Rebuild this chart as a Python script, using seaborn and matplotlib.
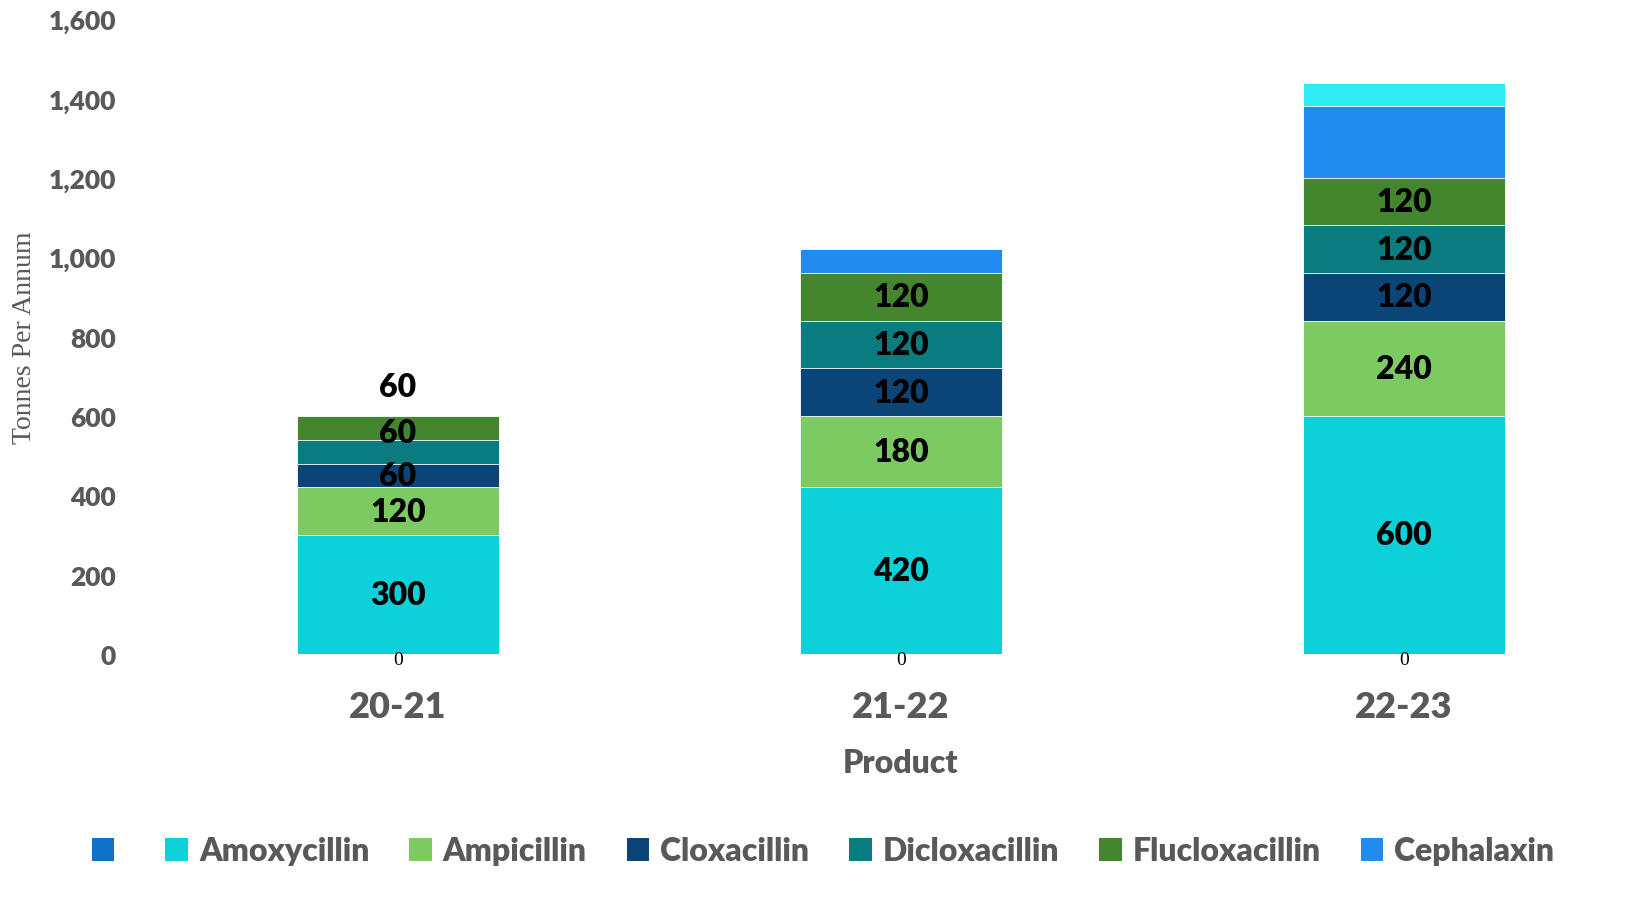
import numpy as np
import seaborn as sns
import matplotlib.pyplot as plt
from matplotlib.patches import Patch
from matplotlib.ticker import FuncFormatter

# data
years = ['20-21', '21-22', '22-23']
blank = [0, 0, 0]
amoxycillin = [300, 420, 600]
ampicillin = [120, 180, 240]
cloxacillin = [60, 120, 120]
dicloxacillin = [60, 120, 120]
flucloxacillin = [60, 120, 120]
cephalaxin = [0, 60, 180]
others = [0, 0, 60]

series_names = ['', 'Amoxycillin', 'Ampicillin', 'Cloxacillin',
                'Dicloxacillin', 'Flucloxacillin', 'Cephalaxin', 'Others']
series_values = [blank, amoxycillin, ampicillin, cloxacillin,
                 dicloxacillin, flucloxacillin, cephalaxin, others]
colors = ['#1170C8', '#0DD0D8', '#7DC962', '#0B4477',
          '#0A7C80', '#43862E', '#228BEE', '#2DECF6']
labelled = [True, True, True, True, True, True, False, False]
in_legend = [True, True, True, True, True, True, True, False]

# label nudges (data units) where the original labels sit off-centre
nudge = {(4, 0): 47, (5, 0): 105}

W = 'heavy'

sns.set_theme(style='white')
plt.rcParams['font.family'] = ['Lato', 'DejaVu Sans']

fig = plt.figure(figsize=(16.3, 9.04), dpi=100)
ax = fig.add_axes([130 / 1630, 1 - 655 / 904, 1500 / 1630, 635 / 904])

vals = np.array(series_values, dtype=float)
cum = np.cumsum(vals, axis=0)

# draw cumulative totals from the top down so each layer covers the next
for i in reversed(range(len(series_values))):
    sns.barplot(x=years, y=cum[i], color=colors[i], width=0.4,
                saturation=1, edgecolor='white', linewidth=0.6, ax=ax)

# value labels
for i, name in enumerate(series_names):
    if not labelled[i]:
        continue
    for j in range(len(years)):
        v = vals[i, j]
        if i == 0:
            ax.text(j, -14, f'{v:.0f}', ha='center', va='center',
                    fontsize=14, family='Liberation Serif', color='black',
                    clip_on=False)
            continue
        y = cum[i, j] - v / 2 + nudge.get((i, j), 0)
        ax.text(j, y, f'{v:.0f}', ha='center', va='center',
                fontsize=23, fontweight=W, color='black')

ax.set_xlim((130 - 398) / 503, (1630 - 398) / 503)
ax.set_ylim(0, 1600)
ax.set_yticks(range(0, 1601, 200))
ax.yaxis.set_major_formatter(FuncFormatter(lambda v, p: f'{v:,.0f}'))
sns.despine(ax=ax, left=True, bottom=True)
ax.tick_params(axis='y', length=0, pad=10, labelsize=19, labelcolor='#595959')
ax.tick_params(axis='x', length=0, pad=26, labelsize=26, labelcolor='#595959')
for t in ax.get_xticklabels() + ax.get_yticklabels():
    t.set_fontweight(W)

ax.set_xlabel('Product', fontsize=23, fontweight=W, color='#595959')
ax.xaxis.set_label_coords((901 - 130) / 1500, -0.148)
ax.set_ylabel('Tonnes Per Annum', fontsize=20, color='#595959',
              family='Liberation Serif')
ax.yaxis.set_label_coords(-0.062, 0.5)

handles = [Patch(facecolor=colors[i], edgecolor='none')
           for i in range(len(series_names)) if in_legend[i]]
names = [series_names[i] for i in range(len(series_names)) if in_legend[i]]
leg = fig.legend(handles, names, loc='center', ncol=len(names),
                 bbox_to_anchor=(0.505, 1 - 852 / 904), frameon=False,
                 handlelength=0.7, handleheight=0.7, handletextpad=0.35,
                 columnspacing=1.25, prop={'size': 23, 'weight': W})
for t in leg.get_texts():
    t.set_color('#595959')

plt.savefig('out.png', dpi=100)
plt.close(fig)
